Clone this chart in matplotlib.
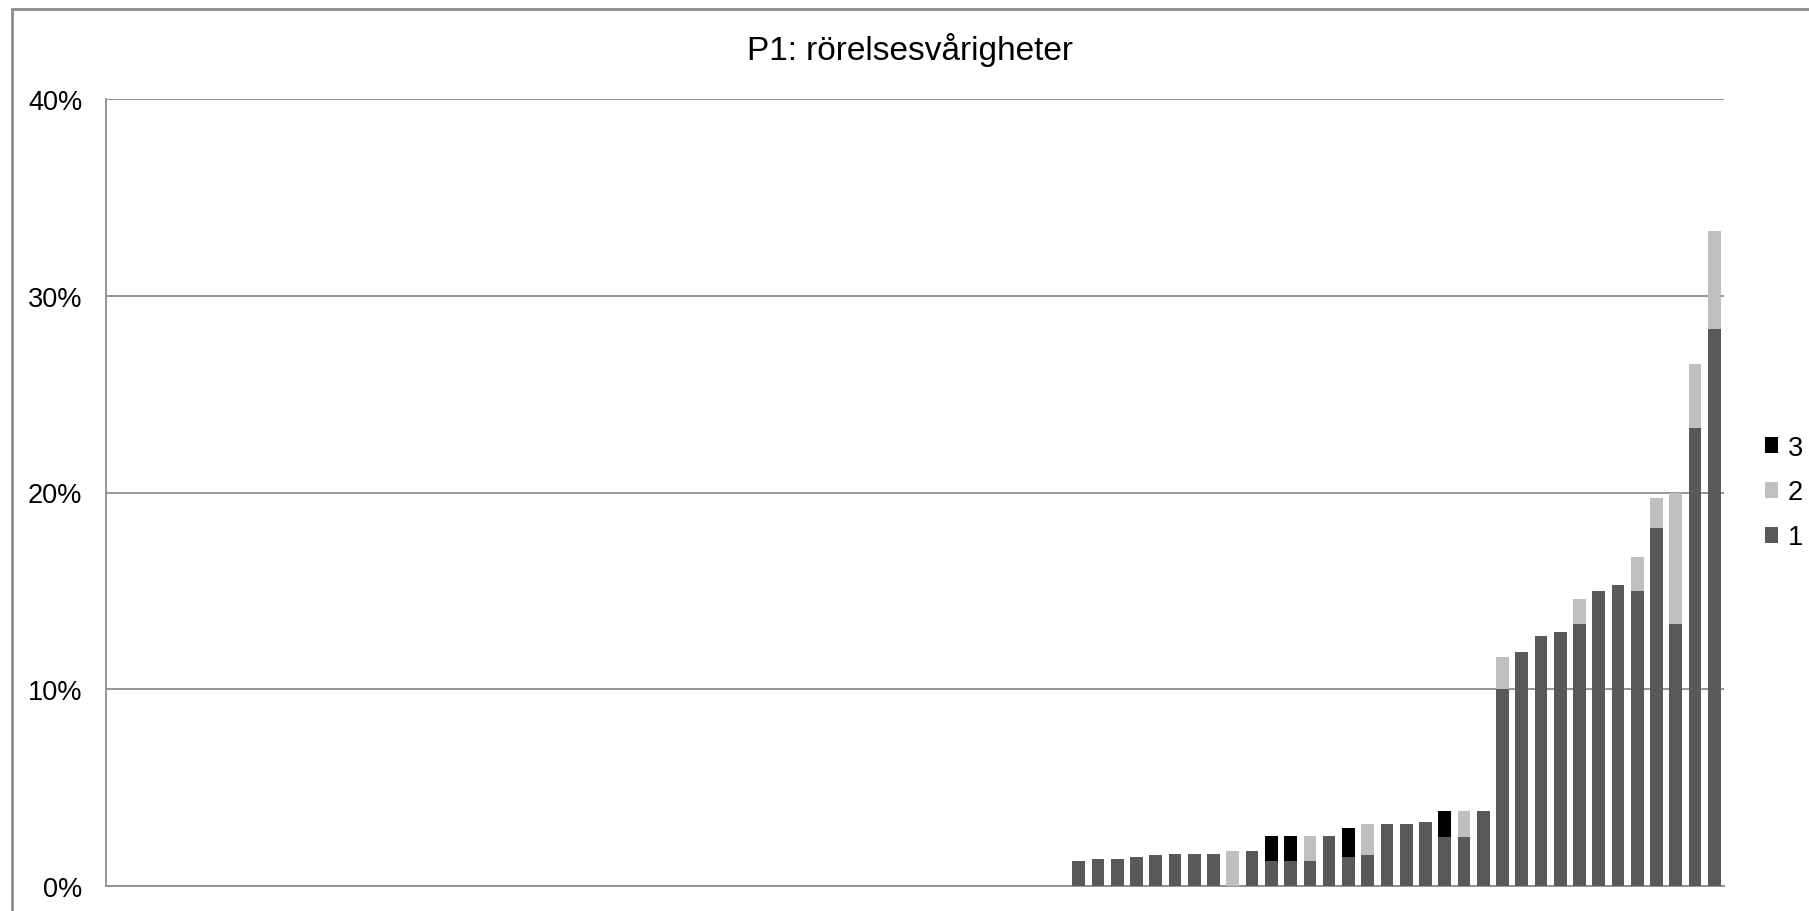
import numpy as np
import matplotlib.pyplot as plt
from matplotlib.patches import Rectangle
from matplotlib.ticker import PercentFormatter

plt.rcParams['font.family'] = ['Liberation Sans', 'DejaVu Sans']

# 84 respondents, the first 50 reported nothing
n_empty = 50
serie_1 = [1.25, 1.39, 1.39, 1.45, 1.57, 1.64, 1.64, 1.64, 0.0, 1.78,
           1.25, 1.25, 1.25, 2.56, 1.45, 1.57, 3.13, 3.13, 3.27, 2.50,
           2.50, 3.80, 10.0, 11.87, 12.7, 12.9, 13.3, 15.0, 15.3, 15.0,
           18.2, 13.3, 23.3, 28.3]
serie_2 = [0, 0, 0, 0, 0, 0, 0, 0, 1.78, 0,
           0, 0, 1.31, 0, 0, 1.56, 0, 0, 0, 0,
           1.30, 0, 1.66, 0, 0, 0, 1.30, 0, 0, 1.70,
           1.50, 6.70, 3.25, 5.0]
serie_3 = [0, 0, 0, 0, 0, 0, 0, 0, 0, 0,
           1.31, 1.31, 0, 0, 1.50, 0, 0, 0, 0, 1.30,
           0, 0, 0, 0, 0, 0, 0, 0, 0, 0,
           0, 0, 0, 0]
serie_namn = ['1', '2', '3']
farger = ['#595959', '#bfbfbf', '#000000']
titel = 'P1: rörelsesvårigheter'

s1 = np.array([0.0] * n_empty + serie_1)
s2 = np.array([0.0] * n_empty + serie_2)
s3 = np.array([0.0] * n_empty + serie_3)
x = np.arange(len(s1))

fig = plt.figure(figsize=(18.09, 9.12), dpi=100)
ax = fig.add_axes([106 / 1809, 25 / 912, 1618 / 1809, 787 / 912])

bredd = 0.66
b1 = ax.bar(x, s1, bredd, color=farger[0], label=serie_namn[0], zorder=3)
b2 = ax.bar(x, s2, bredd, bottom=s1, color=farger[1], label=serie_namn[1], zorder=3)
b3 = ax.bar(x, s3, bredd, bottom=s1 + s2, color=farger[2], label=serie_namn[2], zorder=3)

ax.set_xlim(-0.5, len(x) - 0.5)
ax.set_ylim(0, 40)
ax.set_yticks([0, 10, 20, 30, 40])
ax.yaxis.set_major_formatter(PercentFormatter(decimals=0))
ax.set_xticks([])
ax.tick_params(axis='y', length=0, pad=17, labelsize=19.5)
ax.grid(axis='y', color='#8c8c8c', linewidth=1.3, zorder=0)
for side in ['top', 'right']:
    ax.spines[side].set_visible(False)
for side in ['left', 'bottom']:
    ax.spines[side].set_color('#8c8c8c')
    ax.spines[side].set_linewidth(1.3)

fig.text(910 / 1809, 1 - 60 / 912, titel, ha='center', va='baseline', fontsize=24)

ax.legend([b3, b2, b1], [serie_namn[2], serie_namn[1], serie_namn[0]],
          loc='center left', bbox_to_anchor=(1.01, 0.5), frameon=False,
          fontsize=19.5, handlelength=0.5, handleheight=0.5, handletextpad=0.35,
          labelspacing=0.7)

# outer chart frame (only top and left edges fall inside the image)
fig.patches.append(Rectangle((12 / 1809, -0.5), 2, 1.5 - 10 / 912,
                             transform=fig.transFigure, fill=False,
                             edgecolor='#8c8c8c', linewidth=2))

fig.savefig('out.png', dpi=100)
